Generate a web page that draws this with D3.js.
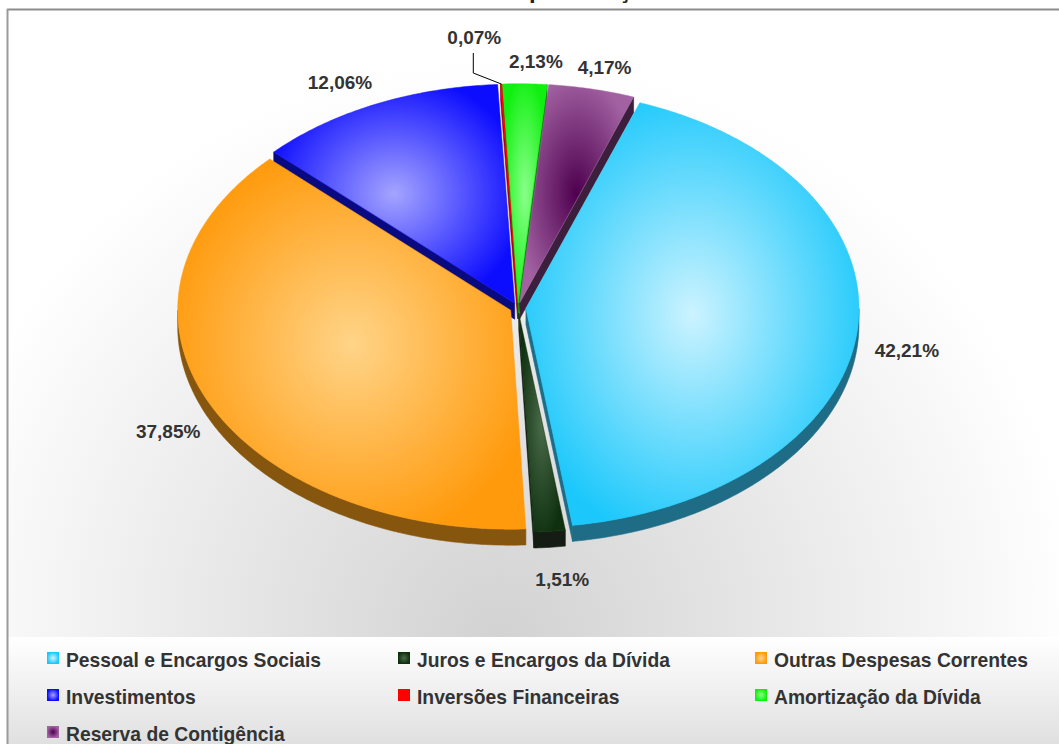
<!DOCTYPE html>
<html><head><meta charset="utf-8">
<script src="https://cdn.jsdelivr.net/npm/d3@7"></script>
<style>
html,body{margin:0;padding:0;background:#fff;}
svg{display:block;}
text{font-family:"Liberation Sans", Arial, sans-serif;}
</style></head><body>
<svg id="chart" width="1059" height="744"></svg>
<script>
// Budget expenditure by group, in percent of the total
const categories = [
  "Pessoal e Encargos Sociais",
  "Juros e Encargos da Dívida",
  "Outras Despesas Correntes",
  "Investimentos",
  "Inversões Financeiras",
  "Amortização da Dívida",
  "Reserva de Contigência"
];
const values = [42.21, 1.51, 37.85, 12.06, 0.07, 2.13, 4.17];
const valueLabels = ["42,21%", "1,51%", "37,85%", "12,06%", "0,07%", "2,13%", "4,17%"];
const edgeColors   = ["#1cc8fb", "#0e300e", "#ff9a0c", "#0c0cff", "#ff0000", "#10f010", "#a262a2"];
const centerColors = ["#ccf3ff", "#4a6a4a", "#ffd488", "#a4a4ff", "#ff0000", "#8aff8a", "#4e004e"];
const wallColors   = ["#1e6c86", "#141c14", "#87560e", "#0a0a80", "#990000", "#0a8a0a", "#3c1f3c"];
const titleText = "Gastos por Função";

const W = 1059, H = 744;
const svg = d3.select("#chart");
const defs = svg.append("defs");

// ---- backgrounds ----
const bgGrad = defs.append("radialGradient").attr("id", "bgGrad")
  .attr("gradientUnits", "userSpaceOnUse")
  .attr("cx", 500).attr("cy", 640).attr("r", 580);
bgGrad.append("stop").attr("offset", 0).attr("stop-color", "#d2d2d2");
bgGrad.append("stop").attr("offset", 0.45).attr("stop-color", "#e6e6e6");
bgGrad.append("stop").attr("offset", 1).attr("stop-color", "#ffffff");

const legGrad = defs.append("linearGradient").attr("id", "legGrad")
  .attr("x1", 0).attr("y1", 0).attr("x2", 0).attr("y2", 1);
legGrad.append("stop").attr("offset", 0).attr("stop-color", "#ffffff");
legGrad.append("stop").attr("offset", 1).attr("stop-color", "#e0e0e0");

svg.append("rect").attr("x", 0).attr("y", 0).attr("width", W).attr("height", H).attr("fill", "#fff");
svg.append("rect").attr("x", 8).attr("y", 10).attr("width", W - 8).attr("height", 627).attr("fill", "url(#bgGrad)");
svg.append("rect").attr("x", 8).attr("y", 637).attr("width", W - 8).attr("height", H - 637).attr("fill", "url(#legGrad)");

// frame
svg.append("line").attr("x1", 7).attr("y1", 9.5).attr("x2", W).attr("y2", 9.5)
  .attr("stroke", "#8c8c8c").attr("stroke-width", 2);
svg.append("line").attr("x1", 7.5).attr("y1", 9).attr("x2", 7.5).attr("y2", H)
  .attr("stroke", "#9a9a9a").attr("stroke-width", 2);

// title sits above the frame, only its descenders show
svg.append("text").attr("x", 441).attr("y", -2)
  .attr("font-size", 24).attr("font-weight", "bold").attr("fill", "#222")
  .text(titleText);

// ---- slice gradients ----
categories.forEach((c, i) => {
  const g = defs.append("radialGradient").attr("id", "sg" + i)
    .attr("cx", "50%").attr("cy", "50%").attr("r", "55%");
  g.append("stop").attr("offset", 0).attr("stop-color", centerColors[i]);
  g.append("stop").attr("offset", 1).attr("stop-color", edgeColors[i]);
});

// ---- 3D pie ----
const cx = 518, cy = 308, rx = 333, ry = 219, depth = 16, explode = 8;
const start = 20 * Math.PI / 180;
const pie = d3.pie().sort(null).value(d => d)
  .startAngle(start).endAngle(start + 2 * Math.PI);
const arcs = pie(values);
const color = d3.scaleOrdinal().domain(categories).range(edgeColors);

function shiftOf(a) {
  const m = (a.startAngle + a.endAngle) / 2;
  return [explode * Math.sin(m), -explode * Math.cos(m) * ry / rx];
}
function pt(ang, sh, z) {
  return [cx + sh[0] + rx * Math.sin(ang), cy + sh[1] - ry * Math.cos(ang) + z];
}
function arcPts(a0, a1, sh, z) {
  const n = Math.max(2, Math.ceil(Math.abs(a1 - a0) / (0.5 * Math.PI / 180)));
  return d3.range(n + 1).map(k => pt(a0 + (a1 - a0) * k / n, sh, z));
}
const line = d3.line().curve(d3.curveLinearClosed);

const walls = [];
arcs.forEach((a, i) => {
  const sh = shiftOf(a);
  const apexT = [cx + sh[0], cy + sh[1]];
  const apexB = [cx + sh[0], cy + sh[1] + depth];
  // radial walls
  [[a.startAngle, a.startAngle - Math.PI / 2], [a.endAngle, a.endAngle + Math.PI / 2]].forEach(([ang, nrm]) => {
    if (Math.cos(nrm) < 0) {
      const eT = pt(ang, sh, 0), eB = pt(ang, sh, depth);
      walls.push({ pts: [apexT, eT, eB, apexB], fill: wallColors[i], key: (apexT[1] + eT[1]) / 2 });
    }
  });
  // outer curved wall, front half only
  const s = Math.max(a.startAngle, Math.PI / 2), e = Math.min(a.endAngle, 3 * Math.PI / 2);
  if (e > s) {
    const topA = arcPts(s, e, sh, 0);
    const botA = arcPts(e, s, sh, depth);
    const mid = pt((s + e) / 2, sh, 0);
    walls.push({ pts: topA.concat(botA), fill: wallColors[i], key: mid[1] + 1000 });
  }
});
walls.sort((p, q) => p.key - q.key);

const pieG = svg.append("g");
pieG.selectAll("path.wall").data(walls).join("path").attr("class", "wall")
  .attr("d", d => line(d.pts)).attr("fill", d => d.fill)
  .attr("stroke", d => d.fill).attr("stroke-width", 0.6);

pieG.selectAll("path.top").data(arcs).join("path").attr("class", "top")
  .attr("d", (a, i) => {
    const sh = shiftOf(a);
    return line([[cx + sh[0], cy + sh[1]]].concat(arcPts(a.startAngle, a.endAngle, sh, 0)));
  })
  .attr("fill", (a, i) => "url(#sg" + i + ")")
  .attr("stroke", (a, i) => color(categories[i])).attr("stroke-width", 0.5);

// ---- value labels ----
// small hand placements of the label boxes around the rim
const labelNudge = [[0, 0], [8, 2], [6, 2], [-15, 0], [0, 0], [10, 2], [2, 2]];
const lab = svg.append("g").attr("font-size", 19).attr("font-weight", "bold")
  .attr("fill", "#333").attr("text-anchor", "middle");
arcs.forEach((a, i) => {
  const m = (a.startAngle + a.endAngle) / 2;
  const sh = shiftOf(a);
  if (i === 4) {
    // tiny slice: label lifted to the left with an elbow leader
    const p = pt(m, sh, 0);
    const elbow = [p[0] - 28, p[1] - 11], tip = [p[0] - 28, p[1] - 31];
    svg.append("path").attr("d", d3.line()([p, elbow, tip]))
      .attr("fill", "none").attr("stroke", "#000").attr("stroke-width", 1);
    lab.append("text").attr("x", p[0] - 27).attr("y", p[1] - 47).attr("dy", "0.35em").text(valueLabels[i]);
    return;
  }
  const c = Math.cos(m);
  const x = cx + sh[0] + (rx + 50) * Math.sin(m) + labelNudge[i][0];
  const y = cy + sh[1] - (ry + (c > 0 ? 24 : 30)) * c + (c < 0 ? depth : 0) + labelNudge[i][1];
  lab.append("text").attr("x", x).attr("y", y).attr("dy", "0.35em").text(valueLabels[i]);
});

// ---- legend ----
const colX = [47, 398, 755], rowY = [667, 704, 741];
const leg = svg.append("g");
categories.forEach((c, i) => {
  const x = colX[i % 3], y = rowY[Math.floor(i / 3)];
  leg.append("rect").attr("x", x + 0.5).attr("y", y - 14.5).attr("width", 11).attr("height", 11)
    .attr("fill", "url(#sg" + i + ")").attr("stroke", edgeColors[i]).attr("stroke-width", 1);
  leg.append("text").attr("x", x + 19).attr("y", y)
    .attr("font-size", 19.3).attr("font-weight", "bold").attr("fill", "#333").text(c);
});
</script>
</body></html>
